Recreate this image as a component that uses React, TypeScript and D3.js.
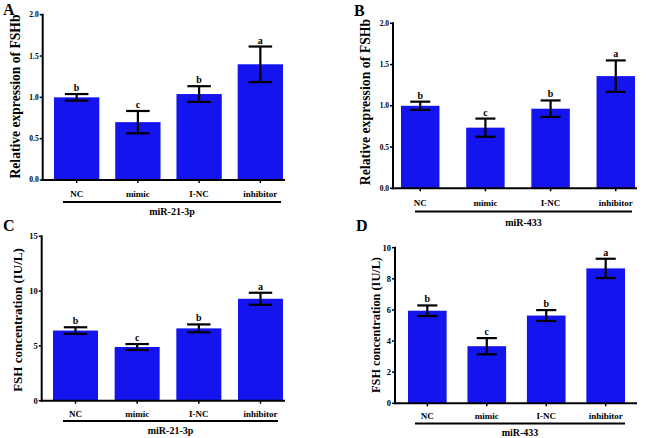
import React from "react";
import * as d3 from "d3";

const categories = ["NC", "mimic", "I-NC", "inhibitor"];
const sigLetters = ["b", "c", "b", "a"];

const fshbMiR21 = [1.0, 0.7, 1.04, 1.4];
const fshbMiR21Err = [0.04, 0.135, 0.095, 0.215];
const fshbMiR433 = [1.0, 0.735, 0.965, 1.36];
const fshbMiR433Err = [0.05, 0.11, 0.1, 0.19];
const fshConcMiR21 = [6.4, 4.9, 6.6, 9.3];
const fshConcMiR21Err = [0.3, 0.27, 0.36, 0.55];
const fshConcMiR433 = [5.95, 3.67, 5.64, 8.67];
const fshConcMiR433Err = [0.34, 0.52, 0.35, 0.62];

const ticksRel = [0, 0.5, 1.0, 1.5, 2.0];
const ticksConcC = [0, 5, 10, 15];
const ticksConcD = [0, 2, 4, 6, 8, 10];

const groupA = "miR-21-3p";
const groupB = "miR-433";
const titleRel = "Relative expression of FSHb";
const titleConc = "FSH concentration (IU/L)";

const FONT = "Liberation Serif";
const BLUE = "#1414ee";

type PanelCfg = {
  letter: string;
  lx: number;
  ly: number;
  axisX: number;
  yTop: number;
  yZero: number;
  yMax: number;
  ticks: number[];
  fmt: string;
  tickFont: number;
  barStart: number;
  barEnd: number;
  padInner: number;
  axisEnd: number;
  catY: number;
  ulY: number;
  ulX0: number;
  ulX1: number;
  grpY: number;
  group: string;
  title: string;
  titleX: number;
  titleY: number;
  titleFont: number;
  values: number[];
  errors: number[];
};

function Panel({ c }: { c: PanelCfg }) {
  const y = d3.scaleLinear().domain([0, c.yMax]).range([c.yZero, c.yTop]);
  const x = d3
    .scaleBand<string>()
    .domain(categories)
    .range([c.barStart, c.barEnd])
    .paddingInner(c.padInner)
    .paddingOuter(0);
  const bw = x.bandwidth();
  const cap = bw * 0.26;
  const fmt = d3.format(c.fmt);
  return (
    <g style={{ fontFamily: FONT, fontWeight: "bold" }}>
      <text x={c.lx} y={c.ly} fontSize={16}>
        {c.letter}
      </text>
      {categories.map((cat, i) => {
        const x0 = x(cat)!;
        const v = c.values[i];
        const e = c.errors[i];
        const cx = x0 + bw / 2;
        return (
          <g key={cat}>
            <rect x={x0} y={y(v)} width={bw} height={y(0) - y(v)} fill={BLUE} />
            <line x1={cx} x2={cx} y1={y(v + e)} y2={y(v - e)} stroke="#000" strokeWidth={2.2} />
            <line x1={cx - cap} x2={cx + cap} y1={y(v + e)} y2={y(v + e)} stroke="#000" strokeWidth={2.2} />
            <line x1={cx - cap} x2={cx + cap} y1={y(v - e)} y2={y(v - e)} stroke="#000" strokeWidth={2.2} />
            <text x={cx} y={y(v + e) - 3} fontSize={10} textAnchor="middle">
              {sigLetters[i]}
            </text>
            <line x1={cx} x2={cx} y1={c.yZero} y2={c.yZero + 3} stroke="#000" strokeWidth={1.5} />
            <text x={cx} y={c.catY} fontSize={9} textAnchor="middle">
              {cat}
            </text>
          </g>
        );
      })}
      <line x1={c.axisX} x2={c.axisX} y1={c.yTop - 1} y2={c.yZero + 1} stroke="#000" strokeWidth={2} />
      <line x1={c.axisX - 1} x2={c.axisEnd} y1={c.yZero} y2={c.yZero} stroke="#000" strokeWidth={2} />
      {c.ticks.map((t) => (
        <g key={t}>
          <line x1={c.axisX - 3} x2={c.axisX} y1={y(t)} y2={y(t)} stroke="#000" strokeWidth={1.5} />
          <text
            x={c.axisX - 4}
            y={y(t)}
            dy="0.33em"
            fontSize={c.tickFont}
            textAnchor="end"
          >
            {fmt(t)}
          </text>
        </g>
      ))}
      <line x1={c.ulX0} x2={c.ulX1} y1={c.ulY} y2={c.ulY} stroke="#000" strokeWidth={2} />
      <text x={(c.ulX0 + c.ulX1) / 2} y={c.grpY} fontSize={10} textAnchor="middle">
        {c.group}
      </text>
      <text
        transform={`translate(${c.titleX},${c.titleY}) rotate(-90)`}
        fontSize={c.titleFont}
        textAnchor="middle"
      >
        {c.title}
      </text>
    </g>
  );
}

const panels: PanelCfg[] = [
  {
    letter: "A", lx: 3, ly: 15, axisX: 42.7, yTop: 14.7, yZero: 180, yMax: 2, ticks: ticksRel, fmt: ".1f", tickFont: 7.5,
    barStart: 54, barEnd: 283, padInner: 0.26, axisEnd: 285, catY: 196.5, ulY: 202, ulX0: 63, ulX1: 281, grpY: 215,
    group: groupA, title: titleRel, titleX: 19.5, titleY: 96.5, titleFont: 13.6, values: fshbMiR21, errors: fshbMiR21Err,
  },
  {
    letter: "B", lx: 354, ly: 16, axisX: 393, yTop: 23.3, yZero: 188.3, yMax: 2, ticks: ticksRel, fmt: ".1f", tickFont: 7.5,
    barStart: 401, barEnd: 635, padInner: 0.41, axisEnd: 637, catY: 206, ulY: 211.5, ulX0: 415, ulX1: 632, grpY: 226,
    group: groupB, title: titleRel, titleX: 370, titleY: 102, titleFont: 13.8, values: fshbMiR433, errors: fshbMiR433Err,
  },
  {
    letter: "C", lx: 3, ly: 231, axisX: 41.7, yTop: 236.3, yZero: 400.7, yMax: 15, ticks: ticksConcC, fmt: "d", tickFont: 8.5,
    barStart: 53, barEnd: 283, padInner: 0.27, axisEnd: 285, catY: 416.5, ulY: 421, ulX0: 63, ulX1: 278, grpY: 434,
    group: groupA, title: titleConc, titleX: 22, titleY: 320, titleFont: 13, values: fshConcMiR21, errors: fshConcMiR21Err,
  },
  {
    letter: "D", lx: 356, ly: 231, axisX: 395, yTop: 247.7, yZero: 403.3, yMax: 10, ticks: ticksConcD, fmt: "d", tickFont: 8.5,
    barStart: 408, barEnd: 625, padInner: 0.35, axisEnd: 637, catY: 419, ulY: 423.5, ulX0: 415, ulX1: 625, grpY: 436,
    group: groupB, title: titleConc, titleX: 380, titleY: 325, titleFont: 12.3, values: fshConcMiR433, errors: fshConcMiR433Err,
  },
];

export default function App() {
  return (
    <svg
      width={648}
      height={438}
      style={{ position: "absolute", left: 0, top: 0, background: "#fff" }}
    >
      <rect width={648} height={438} fill="#fff" />
      {panels.map((p) => (
        <Panel key={p.letter} c={p} />
      ))}
    </svg>
  );
}
